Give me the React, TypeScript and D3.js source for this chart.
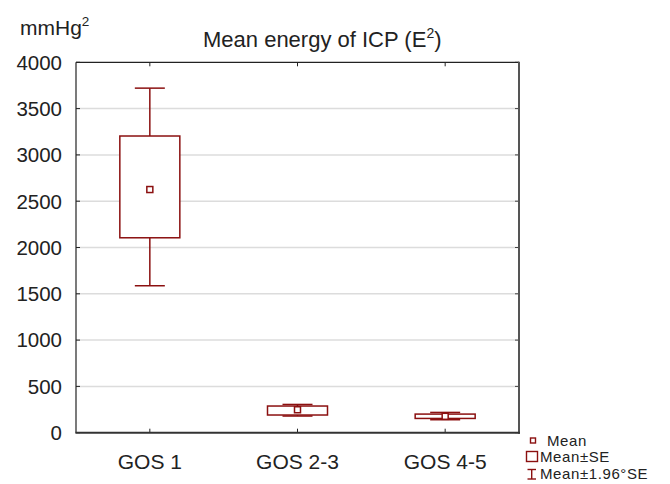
import React from 'react';
import { scaleLinear, scalePoint, range } from 'd3';

const categories = ['GOS 1', 'GOS 2-3', 'GOS 4-5'];
const means = [2626, 248, 177];
const seLow = [2105, 191, 154];
const seHigh = [3204, 288, 201];
const ciLow = [1587, 180, 140];
const ciHigh = [3721, 305, 219];
const yTicks = range(0, 4001, 500);

const W = 670;
const H = 484;
const left = 76;
const right = 519;
const top = 62.3;
const bottom = 432.7;
const red = '#8b1010';
const font = '"Liberation Sans", Arial, sans-serif';

export default function App() {
  const x = scalePoint<string>().domain(categories).range([left, right]).padding(0.5);
  const y = scaleLinear().domain([0, 4000]).range([bottom, top]);
  const boxW = 60;
  const capW = 30;
  const m = 6;

  return (
    <svg width={W} height={H} style={{ position: 'absolute', left: 0, top: 0, background: '#fff' }} fontFamily={font}>
      {/* grid */}
      {yTicks.slice(1, -1).map((t) => (
        <line key={'g' + t} x1={left} x2={right} y1={y(t)} y2={y(t)} stroke="#dcdcdc" strokeWidth={1.5} />
      ))}
      {/* ticks */}
      {yTicks.map((t) => (
        <g key={'t' + t}>
          <line x1={left} x2={left + 4} y1={y(t)} y2={y(t)} stroke="#222" />
          <line x1={right - 4} x2={right} y1={y(t)} y2={y(t)} stroke="#444" />
          <text x={62} y={y(t)} dy="0.36em" textAnchor="end" fontSize={20.5} fill="#222">{t}</text>
        </g>
      ))}
      {categories.map((c) => (
        <g key={'x' + c}>
          <line x1={x(c)} x2={x(c)} y1={top} y2={top + 4} stroke="#222" />
          <line x1={x(c)} x2={x(c)} y1={bottom - 4} y2={bottom} stroke="#222" />
          <text x={x(c)} y={468.5} textAnchor="middle" fontSize={21} fill="#222">{c}</text>
        </g>
      ))}
      {/* frame */}
      <line x1={left} x2={right} y1={top} y2={top} stroke="#222" strokeWidth={1.2} />
      <line x1={left} x2={left} y1={top} y2={bottom} stroke="#222" strokeWidth={1.2} />
      <line x1={right} x2={right} y1={top - 0.6} y2={bottom + 1} stroke="#555" strokeWidth={2} />
      <line x1={left - 0.6} x2={right + 1} y1={bottom} y2={bottom} stroke="#333" strokeWidth={2} />

      {/* boxes */}
      {categories.map((c, i) => {
        const cx = x(c) as number;
        return (
          <g key={'b' + c} stroke={red} fill="#fff">
            <line x1={cx} x2={cx} y1={y(ciHigh[i])} y2={y(seHigh[i])} strokeWidth={1.5} />
            <line x1={cx} x2={cx} y1={y(seLow[i])} y2={y(ciLow[i])} strokeWidth={1.5} />
            <line x1={cx - capW / 2} x2={cx + capW / 2} y1={y(ciHigh[i])} y2={y(ciHigh[i])} strokeWidth={1.5} />
            <line x1={cx - capW / 2} x2={cx + capW / 2} y1={y(ciLow[i])} y2={y(ciLow[i])} strokeWidth={1.5} />
            <rect x={cx - boxW / 2} y={y(seHigh[i])} width={boxW} height={y(seLow[i]) - y(seHigh[i])} strokeWidth={1.5} />
            <rect x={cx - m / 2} y={y(means[i]) - m / 2} width={m} height={m} strokeWidth={1.5} />
          </g>
        );
      })}

      {/* title */}
      <text x={20} y={35} fontSize={21} fill="#222">
        mmHg<tspan fontSize={13.5} dy={-9}>2</tspan>
      </text>
      <text x={203} y={46.7} fontSize={22} fill="#222">
        Mean energy of ICP (E<tspan fontSize={14} dy={-9}>2</tspan><tspan dy={9}>)</tspan>
      </text>

      {/* legend */}
      <g stroke={red} fill="#fff" strokeWidth={1.4}>
        <rect x={530.5} y={438} width={5} height={5} />
        <rect x={526.5} y={451.5} width={11} height={10} />
        <line x1={531.7} x2={531.7} y1={469.5} y2={479} />
        <line x1={527.5} x2={536} y1={469.5} y2={469.5} />
        <line x1={527.5} x2={536} y1={479} y2={479} />
      </g>
      <g fontSize={15} fill="#222" letterSpacing={0.6}>
        <text x={547} y={445.5}>Mean</text>
        <text x={540} y={462.4}>Mean±SE</text>
        <text x={540} y={479.3}>Mean±1.96°SE</text>
      </g>
    </svg>
  );
}
